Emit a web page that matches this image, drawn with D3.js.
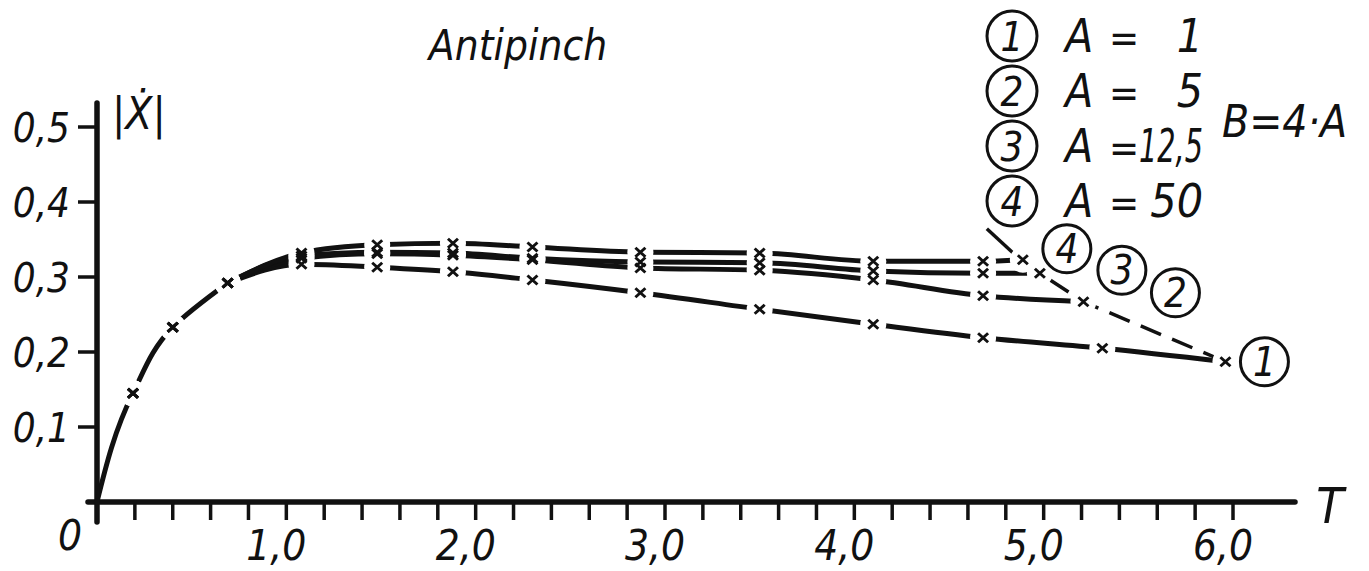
<!DOCTYPE html>
<html>
<head>
<meta charset="utf-8">
<script src="https://cdn.jsdelivr.net/npm/d3@7"></script>
<style>
  body { margin: 0; background: #fff; }
  text { font-family: 'DejaVu Sans Condensed', 'DejaVu Sans', sans-serif; font-style: italic; fill: #111; }
</style>
</head>
<body>
<div id="chart"></div>
<script>
// common rising branch (all curves)
const riseT = [0, 0.19, 0.40, 0.69];
const riseV = [0, 0.145, 0.233, 0.292];

// curve 1 .. 4 (A = 1, 5, 12.5, 50)
const s1T = [1.08, 1.48, 1.88, 2.30, 2.87, 3.50, 4.10, 4.68, 5.31, 5.96];
const s1V = [0.317, 0.313, 0.307, 0.296, 0.279, 0.257, 0.237, 0.219, 0.205, 0.187];
const s2T = [1.08, 1.48, 1.88, 2.30, 2.87, 3.50, 4.10, 4.68, 5.21];
const s2V = [0.325, 0.331, 0.329, 0.323, 0.312, 0.309, 0.296, 0.275, 0.267];
const s3T = [1.08, 1.48, 1.88, 2.30, 2.87, 3.50, 4.10, 4.68, 4.98];
const s3V = [0.328, 0.333, 0.332, 0.325, 0.320, 0.319, 0.308, 0.305, 0.305];
const s4T = [1.08, 1.48, 1.88, 2.30, 2.87, 3.50, 4.10, 4.68, 4.89];
const s4V = [0.332, 0.343, 0.345, 0.340, 0.333, 0.332, 0.321, 0.321, 0.323];

const curveNames = ['1', '2', '3', '4'];
const aValues = ['1', '5', '12,5', '50'];
const xTickLabels = ['1,0', '2,0', '3,0', '4,0', '5,0', '6,0'];
const yTickLabels = ['0,1', '0,2', '0,3', '0,4', '0,5'];

// label circle offsets from the curve end points (px)
const labelOffsets = [[39, 0], [92, -9], [82, -3], [44, -11]];

const width = 1369;
const height = 571;

const svg = d3.select('#chart')
  .append('svg')
  .attr('width', width)
  .attr('height', height);

const x = d3.scaleLinear().domain([0, 6]).range([97, 1233]);
const y = d3.scaleLinear().domain([0, 0.5]).range([502, 127]);

// axes
svg.append('line')
  .attr('x1', x(0) - 9).attr('x2', 1295)
  .attr('y1', y(0)).attr('y2', y(0))
  .attr('stroke', '#111').attr('stroke-width', 5.5).attr('stroke-linecap', 'round');
svg.append('line')
  .attr('x1', x(0)).attr('x2', x(0))
  .attr('y1', 103).attr('y2', y(0) + 20)
  .attr('stroke', '#111').attr('stroke-width', 5.5).attr('stroke-linecap', 'round');

const xMinor = d3.range(1, 31).map((i) => i * 0.2);
svg.selectAll('xtick')
  .data(xMinor)
  .enter()
  .append('line')
  .attr('x1', (d) => x(d)).attr('x2', (d) => x(d))
  .attr('y1', y(0)).attr('y2', y(0) + 18)
  .attr('stroke', '#111').attr('stroke-width', 3.5);

svg.selectAll('xlabel')
  .data(xTickLabels)
  .enter()
  .append('text')
  .attr('x', (d, i) => x(i + 1) - 10)
  .attr('y', 560)
  .attr('text-anchor', 'middle')
  .attr('font-size', 42)
  .text((d) => d);

svg.append('text').attr('x', 70).attr('y', 550).attr('text-anchor', 'middle')
  .attr('font-size', 42).text('0');
svg.append('text').attr('x', 1330).attr('y', 523).attr('text-anchor', 'middle')
  .attr('font-size', 50).text('T');

svg.selectAll('ytick')
  .data(yTickLabels)
  .enter()
  .append('line')
  .attr('x1', x(0) - 19).attr('x2', x(0))
  .attr('y1', (d, i) => y((i + 1) / 10)).attr('y2', (d, i) => y((i + 1) / 10))
  .attr('stroke', '#111').attr('stroke-width', 3.5);

svg.selectAll('ylabel')
  .data(yTickLabels)
  .enter()
  .append('text')
  .attr('x', 70)
  .attr('y', (d, i) => y((i + 1) / 10) + 15)
  .attr('text-anchor', 'end')
  .attr('font-size', 40)
  .text((d) => d);

svg.append('text').attr('x', 112).attr('y', 129)
  .attr('font-size', 44).text('|Ẋ|');

svg.append('text').attr('x', 518).attr('y', 60).attr('text-anchor', 'middle')
  .attr('font-size', 42).text('Antipinch');

// curves
const rise = riseT.map((d, i) => [d, riseV[i]]);
const series = [[s1T, s1V], [s2T, s2V], [s3T, s3V], [s4T, s4V]].map(([t, v]) => (
  rise.concat(t.map((d, i) => [d, v[i]]))
));

// steep start: rising branch interpolated along y
svg.append('path')
  .attr('d', d3.line().x((d) => x(d[0])).y((d) => y(d[1])).curve(d3.curveMonotoneY)(rise))
  .attr('fill', 'none')
  .attr('stroke', '#111')
  .attr('stroke-width', 5)
  .attr('stroke-linecap', 'round');

const line = d3.line()
  .x((d) => x(d[0]))
  .y((d) => y(d[1]))
  .curve(d3.curveMonotoneX);

svg.selectAll('curve')
  .data(series.map((s) => s.slice(rise.length - 1)))
  .enter()
  .append('path')
  .attr('d', line)
  .attr('fill', 'none')
  .attr('stroke', '#111')
  .attr('stroke-width', 5)
  .attr('stroke-linecap', 'round');

// dashed line through curve ends
const ends = series.map((s) => s[s.length - 1]);
const endLine = [ends[3], ends[2], ends[1], ends[0]];
svg.append('path')
  .attr('d', d3.line().x((d) => x(d[0])).y((d) => y(d[1]))(endLine))
  .attr('fill', 'none')
  .attr('stroke', '#111')
  .attr('stroke-width', 3.5)
  .attr('stroke-dasharray', '22 12');

// leader to legend (4)
svg.append('line')
  .attr('x1', x(ends[3][0]) - 36).attr('y1', y(ends[3][1]) - 31)
  .attr('x2', x(ends[3][0]) - 10).attr('y2', y(ends[3][1]) - 7)
  .attr('stroke', '#111').attr('stroke-width', 3.5);

// gaps around markers
const markers = series.flatMap((s) => s.slice(1));
svg.selectAll('gap')
  .data(markers)
  .enter()
  .append('circle')
  .attr('cx', (d) => x(d[0]))
  .attr('cy', (d) => y(d[1]))
  .attr('r', 13)
  .attr('fill', '#fff');

svg.selectAll('cross')
  .data(markers)
  .enter()
  .append('path')
  .attr('d', (d) => {
    const cx = x(d[0]);
    const cy = y(d[1]);
    return `M${cx - 5},${cy - 4.5}L${cx + 5},${cy + 4.5}M${cx + 5},${cy - 4.5}L${cx - 5},${cy + 4.5}`;
  })
  .attr('stroke', '#111')
  .attr('stroke-width', 3)
  .attr('fill', 'none');

// curve labels
svg.selectAll('clabel')
  .data(curveNames)
  .enter()
  .append('circle')
  .attr('cx', (d, i) => x(ends[i][0]) + labelOffsets[i][0])
  .attr('cy', (d, i) => y(ends[i][1]) + labelOffsets[i][1])
  .attr('r', 24)
  .attr('fill', 'none')
  .attr('stroke', '#111')
  .attr('stroke-width', 3);
svg.selectAll('clabelText')
  .data(curveNames)
  .enter()
  .append('text')
  .attr('x', (d, i) => x(ends[i][0]) + labelOffsets[i][0])
  .attr('y', (d, i) => y(ends[i][1]) + labelOffsets[i][1] + 14)
  .attr('text-anchor', 'middle')
  .attr('font-size', 40)
  .text((d) => d);

// legend
const legend = svg.selectAll('legend')
  .data(curveNames)
  .enter()
  .append('g')
  .attr('transform', (d, i) => `translate(0,${36 + i * 55})`);
legend.append('circle')
  .attr('cx', 1012).attr('cy', 0).attr('r', 25)
  .attr('fill', 'none').attr('stroke', '#111').attr('stroke-width', 3);
legend.append('text')
  .attr('x', 1012).attr('y', 15).attr('text-anchor', 'middle')
  .attr('font-size', 40).text((d) => d);
legend.append('text')
  .attr('x', 1065).attr('y', 16).attr('font-size', 46).text('A');
legend.append('text')
  .attr('x', 1109).attr('y', 16).attr('font-size', 40).text('=');
legend.append('text')
  .attr('x', 1203).attr('y', 16).attr('text-anchor', 'end')
  .attr('font-size', 46).text((d, i) => aValues[i])
  .each(function () {
    // squeeze long values so they stay right of the "=" sign
    const w = this.getComputedTextLength();
    if (w > 64) {
      d3.select(this).attr('textLength', 64).attr('lengthAdjust', 'spacingAndGlyphs');
    }
  });

svg.append('text').attr('x', 1222).attr('y', 137)
  .attr('font-size', 44).text('B=4·A');
</script>
</body>
</html>
